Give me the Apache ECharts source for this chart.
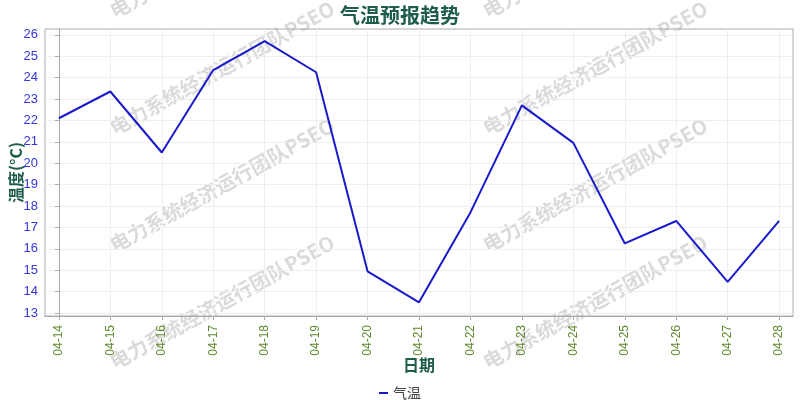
<!DOCTYPE html>
<html>
<head>
<meta charset="utf-8">
<script src="https://cdn.jsdelivr.net/npm/echarts@6/dist/echarts.min.js"></script>
<style>html,body{margin:0;padding:0;background:#fff}#c{width:800px;height:400px}</style>
</head>
<body>
<div id="c"></div>
<script>
var dates = ['04-14','04-15','04-16','04-17','04-18','04-19','04-20','04-21','04-22','04-23','04-24','04-25','04-26','04-27','04-28'];
var temps = [22.1, 23.35, 20.5, 24.35, 25.7, 24.25, 14.95, 13.5, 17.7, 22.7, 20.95, 16.25, 17.3, 14.45, 17.3];
var yTicks = [13,14,15,16,17,18,19,20,21,22,23,24,25,26];
var seriesName = '气温';
var titleText = '气温预报趋势';
var xName = '日期';
var yName = '温度(°C)';
var watermarkText = '电力系统经济运行团队PSEO';

var xIdx = dates.map(function (d, i) { return i; });
var pairs = temps.map(function (v, i) { return [i, v]; });

var FONT = '"Liberation Sans", "Noto Sans CJK SC", sans-serif';
var TEAL = '#1e5c4c';

var wmCenters = [[222,-49],[222,68],[222,185],[222,302],[595,-49],[595,68],[595,185],[595,302]];
var graphics = wmCenters.map(function (c) {
  return {
    type: 'text', x: c[0], y: c[1], rotation: 29 * Math.PI / 180, z: -10, silent: true,
    style: {
      text: watermarkText, fill: 'rgba(140,140,140,0.32)',
      font: 'bold 20px "Noto Sans CJK SC", sans-serif',
      textAlign: 'center', textVerticalAlign: 'middle'
    }
  };
});

var chart = echarts.init(document.getElementById('c'), null, {renderer: 'canvas'});
chart.setOption({
  animation: false,
  backgroundColor: '#fff',
  textStyle: {fontFamily: FONT},
  title: {
    text: titleText, left: 'center', top: 0,
    textStyle: {color: TEAL, fontSize: 20, fontWeight: 'bold', fontFamily: '"Noto Sans CJK SC", sans-serif'}
  },
  legend: {
    data: [{name: seriesName, icon: 'rect'}], left: 'center', top: 381,
    itemWidth: 9, itemHeight: 2, itemGap: 4,
    textStyle: {color: '#444', fontSize: 14, fontFamily: '"Noto Sans CJK SC", sans-serif'}
  },
  graphic: graphics,
  grid: {left: 45, right: 7, top: 29, bottom: 84, containLabel: false, outerBoundsMode: 'none', show: true, borderColor: '#aaa', borderWidth: 1, backgroundColor: 'transparent'},
  xAxis: {
    type: 'value', min: -0.27, max: 14.27, minInterval: 1, maxInterval: 1,
    name: xName, nameLocation: 'middle', nameGap: 41, nameMoveOverlap: false,
    nameTextStyle: {color: TEAL, fontSize: 16, fontWeight: 'bold', fontFamily: '"Noto Sans CJK SC", sans-serif'},
    axisLine: {show: true, lineStyle: {color: '#aaa'}},
    axisTick: {show: true, length: 4, customValues: xIdx, lineStyle: {color: '#aaa'}},
    axisLabel: {
      customValues: xIdx, rotate: 90, margin: 9, color: '#5f8a2e', fontSize: 12,
      formatter: function (v) { return (Math.abs(v - Math.round(v)) < 1e-6 && dates[Math.round(v)]) ? dates[Math.round(v)] : ''; }
    },
    splitLine: {show: true, lineStyle: {color: '#eeeeee', width: 1}}
  },
  yAxis: {
    type: 'value', min: 12.86, max: 26.27, minInterval: 1, maxInterval: 1,
    name: yName, nameLocation: 'middle', nameGap: 21, nameMoveOverlap: false,
    nameTextStyle: {color: TEAL, fontSize: 16, fontWeight: 'bold', fontFamily: '"Noto Sans CJK SC", sans-serif'},
    axisLine: {show: true, lineStyle: {color: '#aaa'}},
    axisTick: {show: true, length: 4, customValues: yTicks, lineStyle: {color: '#aaa'}},
    axisLabel: {
      customValues: yTicks, margin: 7, color: '#3535d8', fontSize: 13,
      formatter: function (v) { return Math.abs(v - Math.round(v)) < 1e-6 ? String(Math.round(v)) : ''; }
    },
    splitLine: {show: true, lineStyle: {color: '#eeeeee', width: 1}}
  },
  series: [{
    name: seriesName, type: 'line', data: pairs,
    showSymbol: false, symbol: 'none',
    lineStyle: {color: '#1a1acc', width: 2},
    itemStyle: {color: '#1a1acc'}
  }]
});
</script>
</body>
</html>
